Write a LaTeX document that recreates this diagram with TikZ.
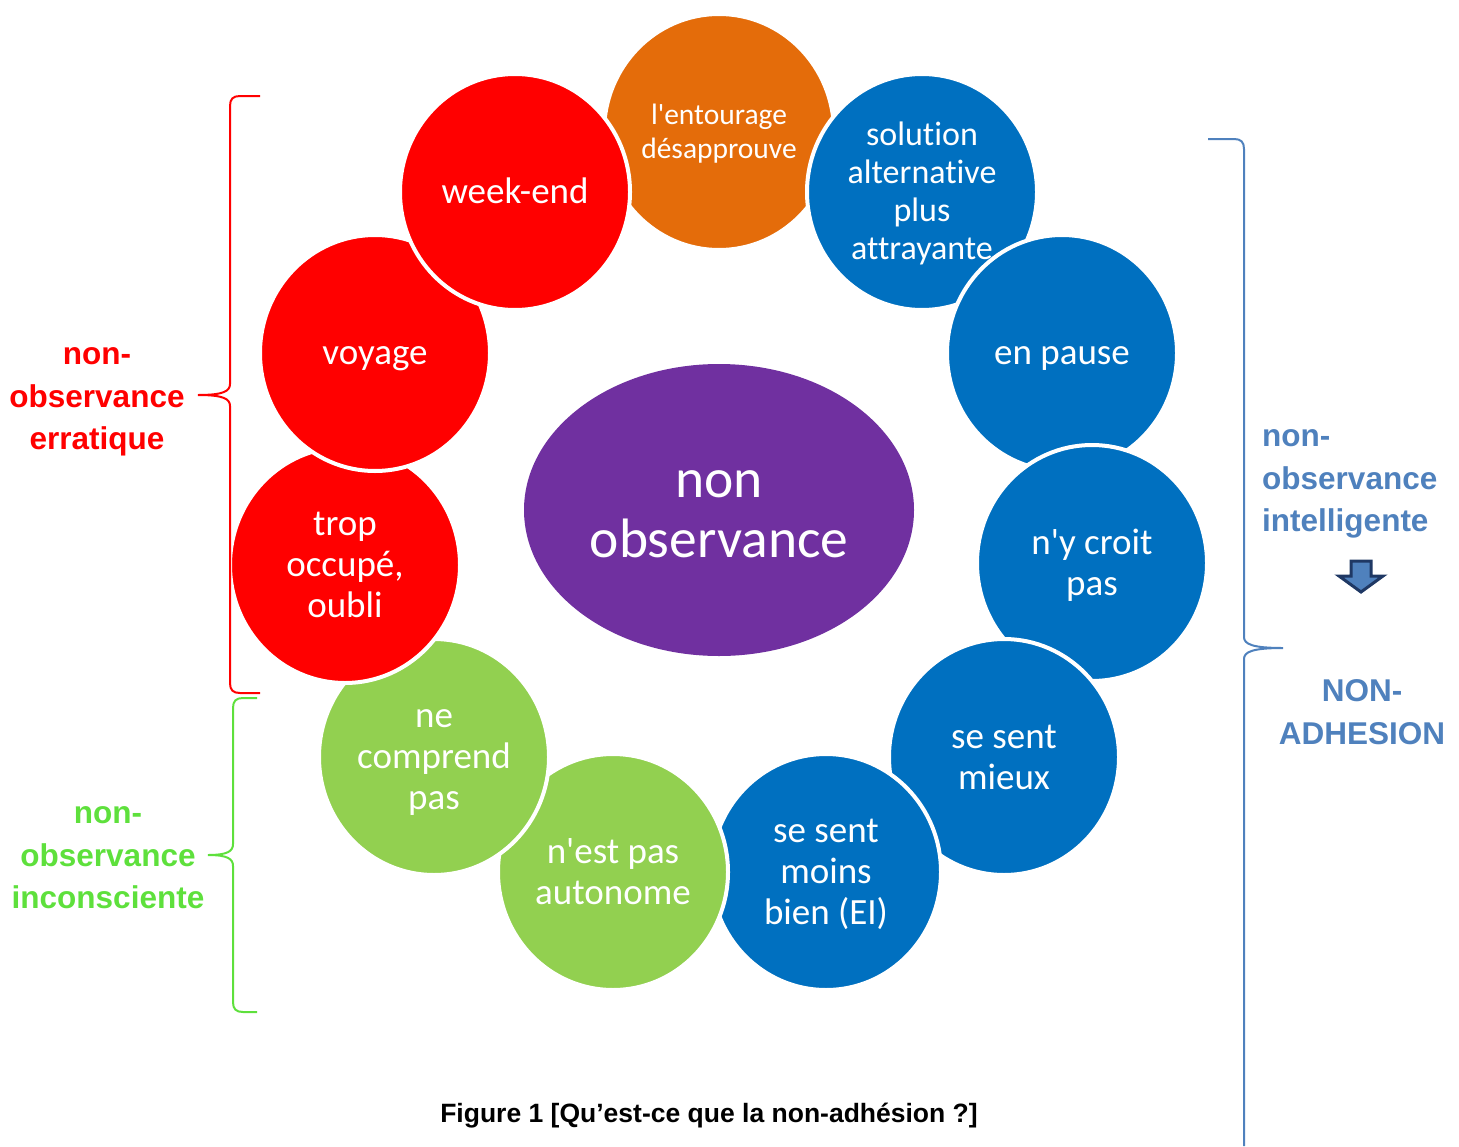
\documentclass[tikz,border=0pt]{standalone}
\usepackage{fontspec}
\setmainfont{Liberation Sans}
\newfontfamily\calib{Carlito}[Ligatures=NoCommon]
\usetikzlibrary{shapes.geometric}
\definecolor{ringred}{HTML}{FF0000}
\definecolor{ringorange}{HTML}{E46C0A}
\definecolor{ringblue}{HTML}{0070C0}
\definecolor{ringgreen}{HTML}{92D050}
\definecolor{ringpurple}{HTML}{7030A0}
\definecolor{labred}{HTML}{FF0000}
\definecolor{labgreen}{HTML}{5EE03C}
\definecolor{labblue}{HTML}{4F81BD}
\definecolor{arrowdark}{HTML}{1F3864}
\newcommand\bstrut{\rule[-0.18em]{0pt}{1.0em}}
\begin{document}
\begin{tikzpicture}[x=1pt, y=-1pt,
    bubble/.style={ellipse, draw=white, line width=4pt, minimum width=230pt, minimum height=236pt,
        inner sep=0pt, text=white, align=center, font=\calib\fontsize{37}{41}\selectfont},
    tag/.style={inner sep=0pt, align=center, font=\bfseries\fontsize{31.5}{42.5}\selectfont}]
		\useasboundingbox (0,0) rectangle (1459,1146);

		% RING OF CAUSES
		\node[bubble, fill=ringorange, font=\calib\fontsize{29.5}{34}\selectfont] (entourage) at (719,132) {\bstrut l'entourage\\désapprouve\bstrut};
		\node[bubble, fill=ringblue, font=\calib\fontsize{34}{38}\selectfont] (solution) at (922,192) {\bstrut solution\\alternative\\plus\\attrayante\bstrut};
		\node[bubble, fill=ringblue] (pause) at (1062,353) {\bstrut en pause\bstrut};
		\node[bubble, fill=ringblue] (croit) at (1092,563) {\bstrut n'y croit\\pas\bstrut};
		\node[bubble, fill=ringblue] (mieux) at (1004,757) {\bstrut se sent\\mieux\bstrut};
		\node[bubble, fill=ringblue] (moins) at (826,872) {\bstrut se sent\\moins\\bien (EI)\bstrut};
		\node[bubble, fill=ringgreen] (autonome) at (613,872) {\bstrut n'est pas\\autonome\bstrut};
		\node[bubble, fill=ringgreen] (comprend) at (434,757) {\bstrut ne\\comprend\\pas\bstrut};
		\node[bubble, fill=ringred] (occupe) at (345,565) {\bstrut trop\\occupé,\\oubli\bstrut};
		\node[bubble, fill=ringred] (voyage) at (375,353) {\bstrut voyage\bstrut};
		\node[bubble, fill=ringred] (weekend) at (515,192) {\bstrut week-end\bstrut};

		% CENTRE
		\node[ellipse, fill=ringpurple, minimum width=390pt, minimum height=292pt, inner sep=0pt, text=white,
		    align=center, font=\calib\fontsize{55.5}{60}\selectfont] (centre) at (719,510) {\bstrut non\\observance\bstrut};

		% BRACES AND LABELS
		\draw[labred, line width=2pt] (260,96) -- (240,96) .. controls (233,96) and (230,99) .. (230,106) -- (230,384)
		    .. controls (230,391) and (224,395) .. (198,395) .. controls (224,395) and (230,399) .. (230,406) -- (230,683)
		    .. controls (230,690) and (233,693) .. (240,693) -- (260,693);
		\node[tag, text=labred] (erratique) at (97,402) {non-\\observance\\erratique};

		\draw[labgreen, line width=2pt] (257,698) -- (243,698) .. controls (236,698) and (233,701) .. (233,708) -- (233,844)
		    .. controls (233,851) and (228,855) .. (208,855) .. controls (228,855) and (233,859) .. (233,866) -- (233,1002)
		    .. controls (233,1009) and (236,1012) .. (243,1012) -- (257,1012);
		\node[tag, text=labgreen] (inconsciente) at (108,858) {non-\\observance\\inconsciente};

		\draw[labblue, line width=2pt] (1208,139) -- (1234,139) .. controls (1241,139) and (1244,142) .. (1244,149) -- (1244,637)
		    .. controls (1244,644) and (1252,648) .. (1283,648) .. controls (1252,648) and (1244,652) .. (1244,659) -- (1244,1146);
		\node[tag, text=labblue, align=left, anchor=west] (intelligente) at (1262,484) {non-\\observance\\intelligente};
		\draw[line width=3pt, draw=arrowdark, fill=labblue, line join=miter] (1351,561) -- (1371,561) -- (1371,576) -- (1383,576)
		    -- (1361,592) -- (1339,576) -- (1351,576) -- cycle;
		\node[tag, text=labblue] (adhesion) at (1362,712) {NON-\\ADHESION};

		% CAPTION
		\node[font=\bfseries\fontsize{26.5}{30}\selectfont] (caption) at (709,1116) {Figure 1 [Qu’est-ce que la non-adhésion ?]};
	\end{tikzpicture}
\end{document}
